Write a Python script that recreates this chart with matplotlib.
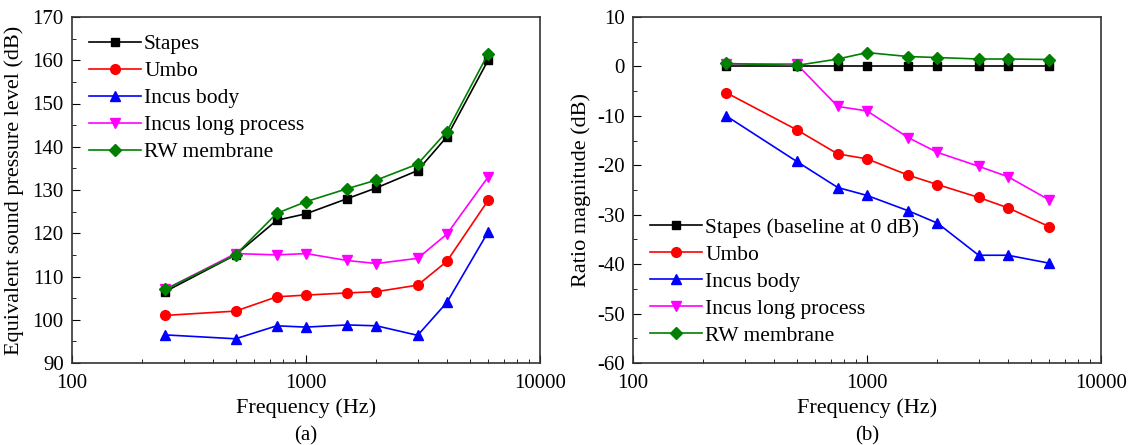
import numpy as np
import matplotlib
matplotlib.use("Agg")
import matplotlib.pyplot as plt
from matplotlib.ticker import FixedLocator, LogLocator, NullFormatter, MultipleLocator

plt.rcParams["font.family"] = ["Liberation Serif", "DejaVu Serif"]
plt.rcParams["font.size"] = 14
plt.rcParams["axes.unicode_minus"] = False

# --- data ---
freq = [250, 500, 750, 1000, 1500, 2000, 3000, 4000, 6000]

spl_stapes = [106.5, 115.0, 123.0, 124.5, 128.0, 130.5, 134.5, 142.3, 160.0]
spl_umbo = [101.0, 102.0, 105.3, 105.7, 106.2, 106.5, 108.0, 113.5, 127.6]
spl_incus_body = [96.5, 95.6, 98.6, 98.3, 98.8, 98.6, 96.4, 104.0, 120.3]
spl_incus_lp = [107.0, 115.3, 115.0, 115.3, 113.7, 113.0, 114.2, 119.8, 133.0]
spl_rw = [107.0, 115.0, 124.6, 127.3, 130.3, 132.3, 136.0, 143.5, 161.5]

ratio_stapes = [0, 0, 0, 0, 0, 0, 0, 0, 0]
ratio_umbo = [-5.3, -12.8, -17.7, -18.7, -22.0, -23.9, -26.5, -28.6, -32.4]
ratio_incus_body = [-10.0, -19.2, -24.5, -26.1, -29.2, -31.7, -38.2, -38.2, -39.8]
ratio_incus_lp = [0.5, 0.5, -8.1, -9.0, -14.4, -17.4, -20.2, -22.3, -27.0]
ratio_rw = [0.6, 0.2, 1.5, 2.8, 2.0, 1.8, 1.5, 1.5, 1.4]

styles = [("k", "s", 6), ("r", "o", 7), ("b", "^", 7), ("magenta", "v", 7), ("green", "D", 6)]

fig = plt.figure(figsize=(11.29, 4.45), dpi=100)
ax1 = fig.add_axes([72 / 1129, 1 - 363 / 445, 468 / 1129, 346 / 445])
ax2 = fig.add_axes([633 / 1129, 1 - 363 / 445, 468 / 1129, 346 / 445])

left_series = [
    (spl_stapes, "Stapes"),
    (spl_umbo, "Umbo"),
    (spl_incus_body, "Incus body"),
    (spl_incus_lp, "Incus long process"),
    (spl_rw, "RW membrane"),
]
right_series = [
    (ratio_stapes, "Stapes (baseline at 0 dB)"),
    (ratio_umbo, "Umbo"),
    (ratio_incus_body, "Incus body"),
    (ratio_incus_lp, "Incus long process"),
    (ratio_rw, "RW membrane"),
]

for ax, series in [(ax1, left_series), (ax2, right_series)]:
    for (vals, label), (c, m, ms) in zip(series, styles):
        ax.plot(freq, vals, color=c, marker=m, markersize=ms, linewidth=1.2, label=label)
    ax.set_xscale("log")
    ax.set_xlim(100, 10000)
    ax.xaxis.set_major_locator(FixedLocator([100, 1000, 10000]))
    ax.set_xticklabels(["100", "1000", "10000"])
    ax.xaxis.set_minor_locator(LogLocator(base=10, subs=np.arange(2, 10)))
    ax.xaxis.set_minor_formatter(NullFormatter())
    ax.yaxis.set_minor_locator(MultipleLocator(5))
    ax.tick_params(which="both", direction="in", top=False, right=False, labelsize=15)
    ax.tick_params(axis="x", which="major", pad=8)
    ax.tick_params(axis="y", which="major", pad=6)
    ax.tick_params(which="major", length=6)
    ax.tick_params(which="minor", length=3)
    for sp in ax.spines.values():
        sp.set_color("#333333")
        sp.set_linewidth(1.2)
    ax.set_xlabel("Frequency (Hz)", fontsize=16, labelpad=4)

ax1.set_ylim(90, 170)
ax1.yaxis.set_major_locator(MultipleLocator(10))
ax1.set_ylabel("Equivalent sound pressure level (dB)", fontsize=16, labelpad=6)
ax1.legend(loc="upper left", frameon=False, fontsize=15.5, handlelength=2.4,
           handletextpad=0.15, labelspacing=0.32, borderaxespad=0.4)

ax2.set_ylim(-60, 10)
ax2.yaxis.set_major_locator(MultipleLocator(10))
ax2.set_ylabel("Ratio magnitude (dB)", fontsize=16, labelpad=4)
ax2.legend(loc="lower left", frameon=False, fontsize=15.5, handlelength=2.4,
           handletextpad=0.15, labelspacing=0.32, borderaxespad=0.4)

fig.text((72 + 234) / 1129, 1 - 440 / 445, "(a)", ha="center", fontsize=15)
fig.text((633 + 234) / 1129, 1 - 440 / 445, "(b)", ha="center", fontsize=15)

fig.savefig("out.png", dpi=100)
